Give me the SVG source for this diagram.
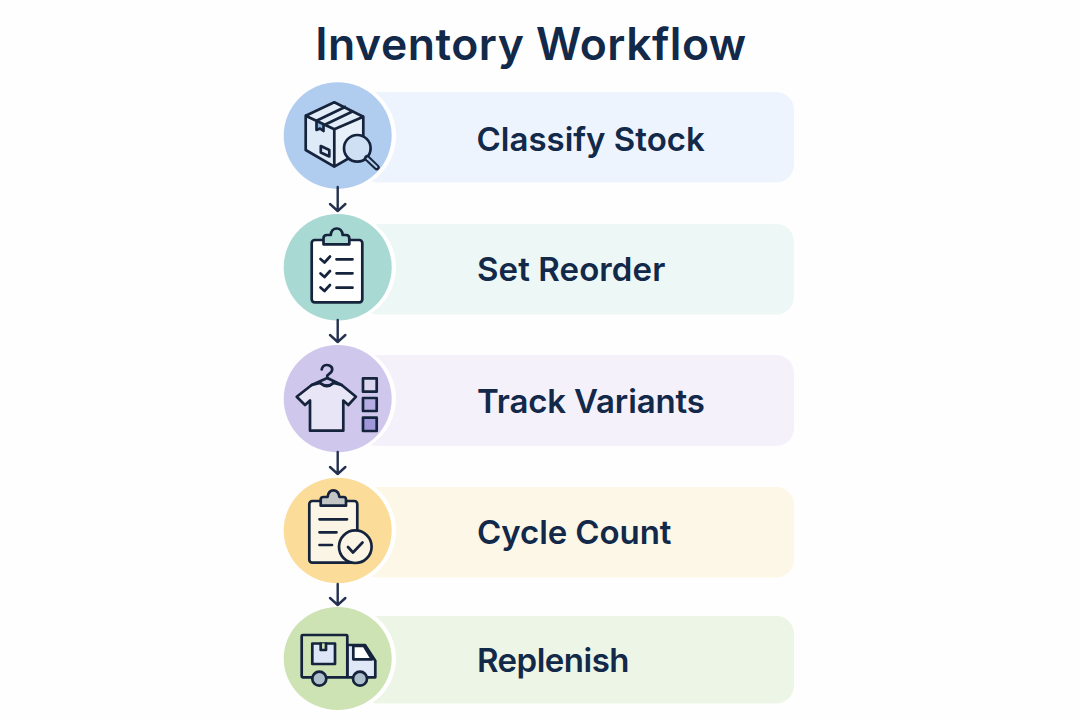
<svg xmlns="http://www.w3.org/2000/svg" width="1080" height="720" viewBox="0 0 1080 720">
<defs>
<style>
.t{font-family:Inter,"Liberation Sans",sans-serif;font-weight:600;fill:#13294a}
.l{font-size:33px}
.i{fill:none;stroke:#15243c;stroke-width:2.7;stroke-linecap:round;stroke-linejoin:round}
.c{fill:none;stroke:#24304f;stroke-width:2.4;stroke-linecap:round;stroke-linejoin:round}
.h{fill:#fff}
</style>
</defs>
<rect width="1080" height="720" fill="#fefefe"/>
<text class="t" x="531" y="60" font-size="44.500" letter-spacing="0.500" text-anchor="middle">Inventory Workflow</text>

<g id="node1">
<rect x="360" y="92" width="434" height="90.500" rx="18" fill="#edf4fd"/>
<ellipse class="h" cx="341" cy="135.600" rx="55" ry="55"/>
<ellipse cx="337.700" cy="135.600" rx="54" ry="53.300" fill="#b0cdf0"/>
<path d="M305.700 115.700V150L334.300 166.700V129.300Z" fill="#dfeaf8"/>
<path d="M334.300 129.300V166.700L363.300 150V116.700Z" fill="#e8f0fa"/>
<path d="M334.300 102.300L305.700 115.700L334.300 129.300L363.300 116.700Z" fill="#e3edf9"/>
<path d="M316.500 121V130L320 128.500L323.500 131V124.500Z" fill="#8fb5e0"/>
<path class="i" d="M334.300 102.300L305.700 115.700V150L334.300 166.700L363.300 150V116.700ZM305.700 115.700L334.300 129.300L363.300 116.700M334.300 129.300V166.700M316.500 120.800L345 107M324.800 124.700L353 111.300M316.500 121V130L320 128.500L323.500 131V124.500"/>
<path class="i" d="M320.800 146L329.300 150V156.500L320.800 152.500Z"/>
<circle class="i" cx="357.300" cy="148.300" r="13.300" style="fill:#cfe0f5"/>
<path d="M367 158L376.700 167.300" stroke="#15243c" stroke-width="6" stroke-linecap="round"/>
<path d="M367.500 158.500L376.500 167" stroke="#b0cdf0" stroke-width="2" stroke-linecap="round"/>
<text class="t l" x="476.500" y="151">Classify Stock</text>
</g>

<g id="node2">
<rect x="360" y="224" width="434" height="90.500" rx="18" fill="#edf7f6"/>
<ellipse class="h" cx="341" cy="267.300" rx="55" ry="55"/>
<ellipse cx="337.700" cy="267.300" rx="54" ry="53.300" fill="#a8d9d3"/>
<rect class="i" x="311.700" y="240" width="50.600" height="62.300" rx="3" style="fill:#fff"/>
<path class="i" d="M323.500 244.300V238.500Q323.500 235 327 235H330.700Q331.500 228.500 336.700 228.500Q342 228.500 342.700 235H346Q349.300 235 349.300 238.500V244.300Z" style="fill:#a8d9d3"/>
<path class="i" d="M320.500 259L324.500 262.500L330 256.500M320.500 273.500L324.500 277L330 271M320.500 287.500L324.500 291L330 285M336.500 259.300H352.500M336.500 273.300H352.500M336.500 287.700H352.500"/>
<text class="t l" x="477" y="281" letter-spacing="0.100">Set Reorder</text>
</g>

<g id="node3">
<rect x="360" y="355" width="434" height="91" rx="18" fill="#f4f1fb"/>
<ellipse class="h" cx="341" cy="398.700" rx="55" ry="55"/>
<ellipse cx="337.700" cy="398.700" rx="54" ry="53.700" fill="#cfc8ec"/>
<path class="i" d="M320 383L311.700 385L296.700 396.700L305 405L310 400.500V430.700H343.300V400.500L348.300 405L356 396.700L341.700 385L333.500 383Q327 389 320 383Z" style="fill:#e8e5f7"/>
<path class="i" d="M311.700 385L327.300 378L341.700 385M320 383Q327 388.500 333.500 383"/>
<path class="i" d="M327.300 378V375.500L331.300 372Q333 369.500 331.500 367Q329.500 364.800 326.500 365Q322.300 365.500 321.700 369.500"/>
<rect class="i" x="363" y="378.300" width="13.700" height="13.400" style="fill:#dcd7f1"/>
<rect class="i" x="363" y="398" width="13.700" height="13" style="fill:#b6aee2"/>
<rect class="i" x="363" y="417.700" width="13.700" height="13.300" style="fill:#9f97da"/>
<text class="t l" x="477" y="413" letter-spacing="-0.150">Track Variants</text>
</g>

<g id="node4">
<rect x="360" y="487" width="434" height="90.500" rx="18" fill="#fdf7e8"/>
<ellipse class="h" cx="341" cy="530.500" rx="55" ry="55"/>
<ellipse cx="337.700" cy="530.500" rx="54" ry="52.800" fill="#fbdc98"/>
<rect class="i" x="309.300" y="501" width="48" height="61.700" rx="3" style="fill:#fbf5e6"/>
<path class="i" d="M320.700 505.700V499.500Q320.700 497 323.500 497H327.500Q328.500 490.300 333.300 490.300Q338.500 490.300 339.500 497H343.500Q346 497 346 499.500V505.700Z" style="fill:#c3c6c5"/>
<path class="i" d="M319.500 519.300H347M319.500 532.300H336.500M319.500 545H332"/>
<circle class="i" cx="355.300" cy="546.700" r="16.300" style="fill:#fbf5e6"/>
<path class="i" d="M348 547L353 552.500L362.500 542.500"/>
<text class="t l" x="477" y="544" letter-spacing="-0.100">Cycle Count</text>
</g>

<g id="node5">
<rect x="360" y="616" width="434" height="87.500" rx="18" fill="#edf5e6"/>
<ellipse class="h" cx="341" cy="658.500" rx="55" ry="54"/>
<ellipse cx="337.700" cy="658.500" rx="54" ry="51.500" fill="#cde3b4"/>
<path class="i" d="M347.300 645H365L375.300 660.700V677.300H347.300Z" style="fill:#dfe8f6"/>
<path class="i" d="M353.300 646V659.300H372L364 646Z" style="fill:#fff"/>
<rect class="i" x="301.700" y="635" width="45.600" height="42.300" rx="1" style="fill:#cde3b4"/>
<rect class="i" x="312.300" y="643.500" width="22.700" height="20.500" style="fill:#dce6f6"/>
<path class="i" d="M320.700 643.500V650H326V643.500" style="fill:#cde3b4"/>
<circle class="i" cx="319.300" cy="678.700" r="7" style="fill:#aebfcc"/>
<circle class="i" cx="360" cy="678.700" r="7" style="fill:#aebfcc"/>
<text class="t l" x="477" y="672" letter-spacing="-0.500">Replenish</text>
</g>

<g id="connectors">
<path class="c" d="M337.700 187V211M330 204L337.700 211L345.400 204"/>
<path class="c" d="M337.700 320V342M330 335L337.700 342L345.400 335"/>
<path class="c" d="M337.700 452V474M330 467L337.700 474L345.400 467"/>
<path class="c" d="M337.700 584V605M330 598L337.700 605L345.400 598"/>
</g>
</svg>
